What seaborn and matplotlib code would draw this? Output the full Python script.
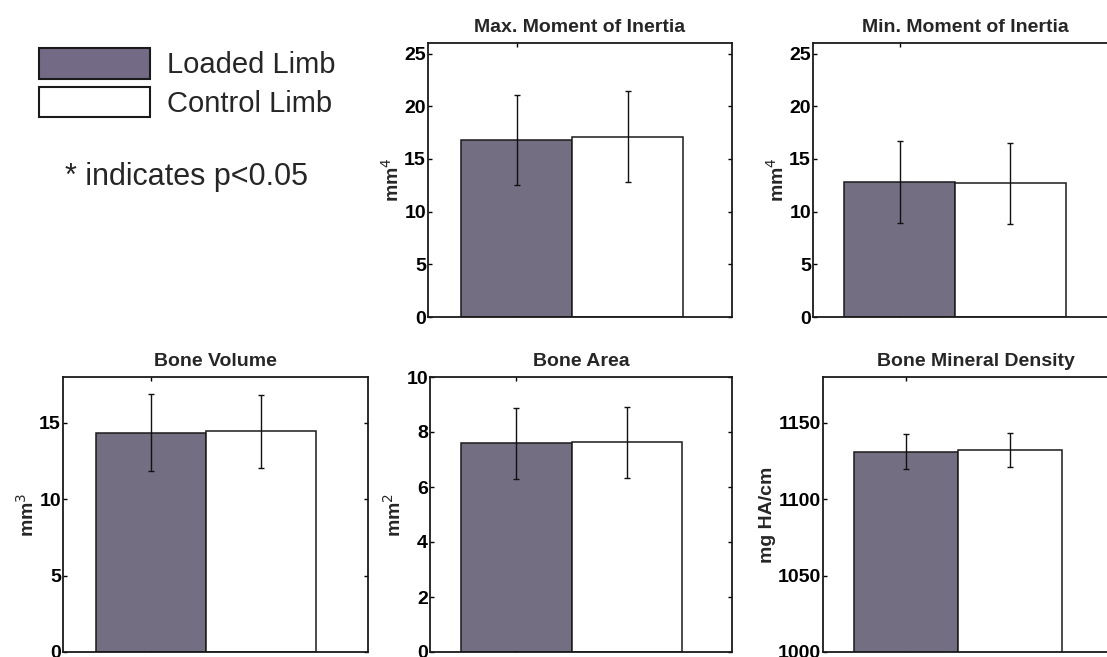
import matplotlib
matplotlib.use("Agg")
import matplotlib.pyplot as plt
import seaborn as sns
import pandas as pd
import numpy as np
from matplotlib.patches import Patch

sns.set_style("white")
plt.rcParams['font.family'] = ['Liberation Sans', 'DejaVu Sans']

limbs = ["Loaded Limb", "Control Limb"]
colors = ["#736a86", "#ffffff"]

titles = ["Max. Moment of Inertia", "Min. Moment of Inertia",
          "Bone Volume", "Bone Area", "Bone Mineral Density"]
ylabels = ["mm$^4$", "mm$^4$", "mm$^3$", "mm$^2$", "mg HA/cm"]
means = [[16.8, 17.1], [12.8, 12.7], [14.36, 14.47], [7.59, 7.62], [1130.9, 1132.4]]
err_lo = [[12.5, 12.8], [8.9, 8.85], [11.85, 12.04], [6.30, 6.33], [1119.9, 1120.9]]
err_hi = [[21.1, 21.4], [16.7, 16.5], [16.9, 16.8], [8.89, 8.92], [1142.6, 1143.2]]
ylims = [(0, 26), (0, 26), (0, 18), (0, 10), (1000, 1180)]
yticks = [[0, 5, 10, 15, 20, 25], [0, 5, 10, 15, 20, 25], [0, 5, 10, 15],
          [0, 2, 4, 6, 8, 10], [1000, 1050, 1100, 1150]]
xlims = [(-0.797, 1.94), (-0.78, 1.96), (-0.8, 1.97), (-0.78, 1.95), (-0.8, 2.13)]

W, H = 1107, 657
fig = plt.figure(figsize=(W / 100, H / 100), dpi=100)

# axes boxes in pixels: left, top, right, bottom
boxes = [(428, 43, 732, 317), (813, 43, 1117, 317),
         (63, 377, 368, 652), (430, 377, 732, 652), (823, 377, 1128, 652)]

for i, (l, t, r, b) in enumerate(boxes):
    ax = fig.add_axes([l / W, 1 - b / H, (r - l) / W, (b - t) / H])
    df = pd.DataFrame({"limb": limbs, "value": means[i]})
    sns.barplot(data=df, x="limb", y="value", hue="limb", palette=colors,
                hue_order=limbs, order=limbs, width=1.0, edgecolor="#1a1a1a",
                linewidth=1.1, legend=False, ax=ax)
    m = np.array(means[i])
    lo = m - np.array(err_lo[i])
    hi = np.array(err_hi[i]) - m
    ax.errorbar([0, 1], m, yerr=[lo, hi], fmt="none", ecolor="#111111",
                elinewidth=1.0, capsize=2.2, capthick=1.0)
    ax.set_xlim(*xlims[i])
    ax.set_ylim(*ylims[i])
    ax.set_yticks(yticks[i])
    ax.set_xticks([0])
    ax.set_xticklabels([])
    ax.set_xlabel("")
    ax.set_ylabel(ylabels[i], fontsize=14, fontweight="bold", labelpad=1)
    ax.set_title(titles[i], fontsize=14, fontweight="bold", pad=8)
    ax.tick_params(axis="both", direction="in", length=3, width=1,
                   right=True, top=True, left=True, bottom=True,
                   labelsize=14, pad=1.5, colors="black")
    for lab in ax.get_yticklabels():
        lab.set_fontweight("bold")
    for sp in ax.spines.values():
        sp.set_visible(True)
        sp.set_color("#1a1a1a")
        sp.set_linewidth(1.3)

# legend region
handles = [Patch(facecolor=colors[0], edgecolor="#1a1a1a", linewidth=1.5, label=limbs[0]),
           Patch(facecolor=colors[1], edgecolor="#1a1a1a", linewidth=1.5, label=limbs[1])]
leg = fig.legend(handles=handles, loc="upper left", bbox_to_anchor=(39 / W, 1 - 48 / H),
                 frameon=False, fontsize=21, handlelength=3.8, handleheight=1.25,
                 handletextpad=0.6, labelspacing=0.25, borderaxespad=0, borderpad=0)
fig.text(65 / W, 1 - 177 / H, "* indicates p<0.05", fontsize=22, va="center", ha="left")

fig.savefig("out.png", dpi=100)
